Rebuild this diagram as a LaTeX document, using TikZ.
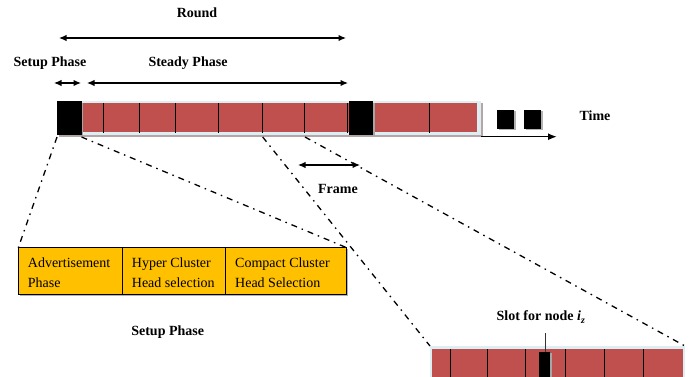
\documentclass[tikz,border=0pt]{standalone}
\usepackage{fontspec}
\setmainfont{Liberation Serif}
\usetikzlibrary{arrows.meta}
\definecolor{barred}{HTML}{C0504D}
\definecolor{barblue}{HTML}{DAEEF3}
\definecolor{shadowc}{HTML}{B8A4A4}
\definecolor{phaseyellow}{HTML}{FFC000}
\tikzset{
  lbl/.style={font=\fontsize{14}{16}\selectfont\bfseries, inner sep=0pt},
  boxtxt/.style={font=\fontsize{14}{19.6}\selectfont, inner sep=0pt, align=left, anchor=west},
  dblarrow/.style={line width=1.2pt, {Latex[length=7.5pt,width=6.5pt]}-{Latex[length=7.5pt,width=6.5pt]}},
  dashdot/.style={line width=1.3pt, dash pattern=on 6pt off 5pt on 1.5pt off 5pt},
  divider/.style={line width=0.9pt, black},
  blk/.style={fill=black, draw=none},
}
\begin{document}
\begin{tikzpicture}[x=1pt,y=-1pt]
\useasboundingbox (0,0) rectangle (693,377);
% ---- main time bar ----
\fill[shadowc] (59,103) rectangle (483,137.5);
\fill[barblue] (57,101) rectangle (481,135.5);
\fill[barred] (58,103.5) rectangle (477,132.5);
\foreach \x in {103.3,139.3,175.7,218.3,262.7,304.3,347.5,429.3}
  \draw[divider] (\x,103.5) -- (\x,133);
\fill[gray!70] (59,103) rectangle (83,136.5);
\fill[blk] (57,101.5) rectangle (81.5,135);
\fill[gray!70] (350.5,103) rectangle (374.5,136.5);
\fill[blk] (348.5,101.5) rectangle (372.5,135);
\coordinate (barL) at (57,137);
\coordinate (setupR) at (81.5,137);
\coordinate (frameL) at (262.7,137);
\coordinate (frameR) at (305,137);
% time axis
\coordinate (tstart) at (481,136.7);
\coordinate (tend) at (557,136.7);
\draw[line width=1.6pt, -{Latex[length=9pt,width=7pt]}] (tstart) -- (tend);
\fill[gray!60] (498.5,111.5) rectangle (515.5,130.5);
\fill[blk] (497.3,110) rectangle (514,129.3);
\fill[gray!60] (525.5,111.5) rectangle (542.5,130.5);
\fill[blk] (524.3,110) rectangle (541,129.3);
\node[lbl] (time) at (595,116) {Time};
% ---- arrows above ----
\coordinate (roundL) at (59,38); \coordinate (roundR) at (346,38);
\draw[dblarrow] (roundL) -- (roundR);
\node[lbl] (round) at (197,13) {Round};
\coordinate (suL) at (54,83); \coordinate (suR) at (81,83);
\draw[dblarrow] (suL) -- (suR);
\node[lbl] (setup) at (50,63) {Setup Phase};
\coordinate (stL) at (87,83); \coordinate (stR) at (348,83);
\draw[dblarrow] (stL) -- (stR);
\node[lbl] (steady) at (188,63) {Steady Phase};
% frame
\coordinate (frL) at (298,165); \coordinate (frR) at (360,165);
\draw[dblarrow] (frL) -- (frR);
\node[lbl] (frame) at (338,189) {Frame};
% ---- setup phase box ----
\fill[gray!60] (19.5,249) rectangle (348,295.5);
\draw[line width=1pt, fill=phaseyellow] (18.3,247.7) rectangle (346.7,294);
\draw[line width=1pt] (122.3,247.7) -- (122.3,294);
\draw[line width=1pt] (225.7,247.7) -- (225.7,294);
\node[boxtxt] (adv) at (27.7,272.5) {Advertisement\\Phase};
\node[boxtxt] (hyper) at (131.7,272.5) {Hyper Cluster\\Head selection};
\node[boxtxt] (compact) at (235,272.5) {Compact Cluster\\Head Selection};
\coordinate (boxTL) at (18.3,247.7);
\coordinate (boxTR) at (346.7,247.7);
\node[lbl] (setup2) at (167.7,331.7) {Setup Phase};
% ---- frame detail bar ----
\fill[barblue] (430,345.5) rectangle (685,380);
\fill[barred] (432,349) rectangle (683,380);
\foreach \x in {450.7,487.3,525,565.7,604.3,643.3}
  \draw[divider] (\x,349) -- (\x,380);
\fill[gray!70] (541,353) rectangle (551.5,380);
\fill[blk] (539.3,351.7) rectangle (550,380);
\coordinate (detL) at (430,346);
\coordinate (detR) at (685,346);
\node[lbl] (slot) at (541,317) {Slot for node \textit{i\textsubscript{z}}};
\coordinate (slottop) at (545,351.7);
\draw[line width=0.8pt, black!80] (545,333) -- (slottop);
% ---- zoom connectors ----
\draw[dashdot] (barL) -- (boxTL);
\draw[dashdot] (setupR) -- (boxTR);
\draw[dashdot] (frameL) -- (detL);
\draw[dashdot] (frameR) -- (detR);
\end{tikzpicture}
\end{document}
